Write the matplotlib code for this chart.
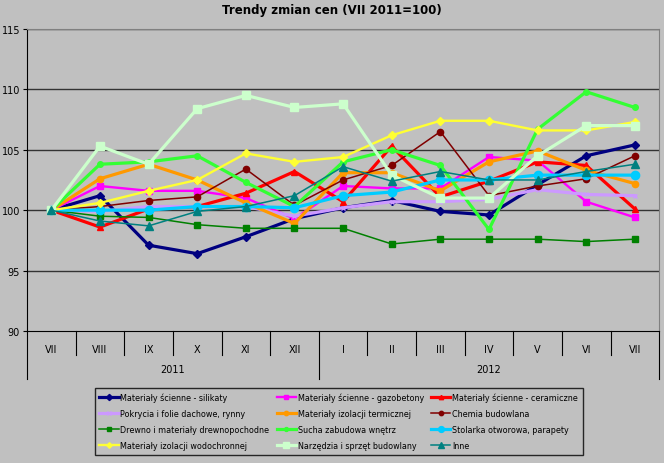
import numpy as np
import matplotlib
matplotlib.use("Agg")
import matplotlib.pyplot as plt
import matplotlib.transforms as mtransforms

months = ["VII", "VIII", "IX", "X", "XI", "XII", "I", "II", "III", "IV", "V", "VI", "VII"]
years = ["2011", "2012"]

names = [
    "Materiały ścienne - silikaty",
    "Materiały ścienne - gazobetony",
    "Materiały ścienne - ceramiczne",
    "Pokrycia i folie dachowe, rynny",
    "Materiały izolacji termicznej",
    "Chemia budowlana",
    "Drewno i materiały drewnopochodne",
    "Sucha zabudowa wnętrz",
    "Stolarka otworowa, parapety",
    "Materiały izolacji wodochronnej",
    "Narzędzia i sprzęt budowlany",
    "Inne",
]

silikaty = [100, 101.2, 97.1, 96.4, 97.8, 99.3, 100.2, 100.8, 99.9, 99.6, 102.1, 104.5, 105.4]
gazobetony = [100, 102.0, 101.6, 101.6, 101.0, 99.3, 102.0, 101.8, 101.8, 104.4, 104.1, 100.7, 99.4]
ceramiczne = [100, 98.6, 100.1, 100.3, 101.4, 103.2, 100.7, 105.3, 101.1, 102.4, 104.0, 103.7, 100.1]
pokrycia = [100, 99.9, 100.3, 100.3, 100.3, 99.5, 100.2, 100.7, 100.7, 100.9, 101.7, 101.3, 101.2]
termiczne = [100, 102.6, 103.8, 102.5, 100.6, 98.9, 103.1, 103.1, 101.6, 104.0, 104.9, 103.3, 102.2]
chemia = [100, 100.3, 100.8, 101.1, 103.4, 100.4, 102.5, 103.7, 106.5, 101.2, 102.0, 102.6, 104.5]
drewno = [100, 99.5, 99.4, 98.8, 98.5, 98.5, 98.5, 97.2, 97.6, 97.6, 97.6, 97.4, 97.6]
sucha = [100, 103.8, 104.0, 104.5, 102.3, 100.3, 104.0, 105.0, 103.7, 98.4, 106.7, 109.8, 108.5]
stolarka = [100, 100.0, 100.0, 100.3, 100.3, 100.2, 101.2, 101.5, 102.5, 102.5, 102.9, 102.9, 102.9]
wodochronne = [100, 100.6, 101.6, 102.5, 104.7, 104.0, 104.4, 106.2, 107.4, 107.4, 106.6, 106.6, 107.3]
narzedzia = [100, 105.3, 103.8, 108.4, 109.5, 108.5, 108.8, 102.9, 101.0, 101.0, 104.5, 107.0, 107.0]
inne = [100, 99.1, 98.7, 99.9, 100.3, 101.2, 103.6, 102.4, 103.2, 102.5, 102.5, 103.2, 103.8]

series = [silikaty, gazobetony, ceramiczne, pokrycia, termiczne, chemia,
          drewno, sucha, stolarka, wodochronne, narzedzia, inne]
colors = ["#000080", "#FF00FF", "#FF0000", "#CC99FF", "#FF9900", "#800000",
          "#008000", "#33FF33", "#00CCFF", "#FFFF33", "#CCFFCC", "#008080"]
markers = ["D", "s", "^", "x", "o", "o", "s", "o", "o", "D", "s", "^"]
widths = [2.3, 1.7, 2.3, 2.3, 2.3, 1.1, 1.1, 2.3, 2.3, 1.7, 2.3, 1.1]
msizes = [4.5, 4.5, 4.5, 3.5, 4.5, 4.5, 4.5, 4, 6, 4, 5.5, 5.5]

bg = "#C0C0C0"
fig = plt.figure(figsize=(6.64, 4.64), dpi=100, facecolor=bg)
ax = fig.add_axes([0.0407, 0.2845, 0.952, 0.651])
ax.set_facecolor(bg)

x = np.arange(len(months))
lines = []
for vals, name, c, m, w, ms in zip(series, names, colors, markers, widths, msizes):
    ln, = ax.plot(x, vals, color=c, marker=m, lw=w, ms=ms, mec=c, mfc=c, label=name)
    lines.append(ln)

ax.set_xlim(-0.5, len(months) - 0.5)
ax.set_ylim(90, 115)
ax.set_yticks(range(90, 116, 5))
ax.tick_params(axis="y", labelsize=7, length=3, color="black", pad=2)
ax.set_xticks([])
for v in range(95, 116, 5):
    ax.axhline(v, color="#333333", lw=1.0, zorder=0)
for s in ["top", "right"]:
    ax.spines[s].set_color("#808080")
ax.spines["left"].set_color("black")
ax.spines["bottom"].set_color("black")

# category axis with month and year labels
trans = mtransforms.blended_transform_factory(ax.transData, ax.transAxes)
for i, mname in enumerate(months):
    ax.text(i, -0.06, mname, transform=trans, ha="center", va="center", fontsize=7)
for i in range(1, len(months)):
    if i == 6:
        continue
    ax.plot([i - 0.5, i - 0.5], [0, -0.08], transform=trans, color="black", lw=0.8, clip_on=False)
for xb in [-0.5, 5.5, 12.5]:
    ax.plot([xb, xb], [0, -0.16], transform=trans, color="black", lw=0.8, clip_on=False)
ax.text(2.5, -0.125, years[0], transform=trans, ha="center", va="center", fontsize=7)
ax.text(9.0, -0.125, years[1], transform=trans, ha="center", va="center", fontsize=7)

fig.suptitle("Trendy zmian cen (VII 2011=100)", fontsize=8.5, fontweight="bold", y=0.992)

# legend filled row by row
order = [0, 3, 6, 9, 1, 4, 7, 10, 2, 5, 8, 11]
leg = fig.legend([lines[i] for i in order], [names[i] for i in order],
                 ncol=3, loc="center", bbox_to_anchor=(0.51, 0.09),
                 fontsize=5.8, frameon=True, fancybox=False, facecolor=bg,
                 edgecolor="black", handlelength=2.4, handletextpad=0.2,
                 columnspacing=0.9, labelspacing=0.85, borderpad=0.6,
                 markerscale=0.7)
leg.get_frame().set_linewidth(1.0)

fig.savefig("out.png", dpi=100, facecolor=bg)
